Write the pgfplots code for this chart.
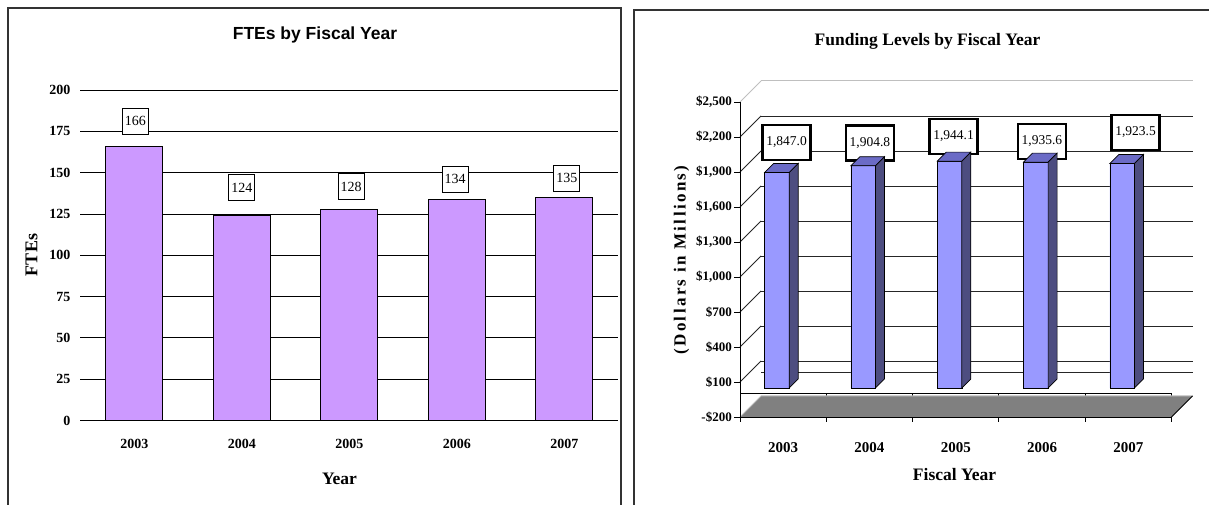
\documentclass[border=0pt]{standalone}
\usepackage{fontspec}
\setmainfont{Liberation Serif}
\newfontfamily\arialfont{Liberation Sans}
\usepackage{pgfplots}
\usepackage{pgfplotstable}
\pgfplotsset{compat=1.18}

\definecolor{ftebar}{HTML}{CC99FF}
\definecolor{frontc}{HTML}{9999FF}
\definecolor{sidec}{HTML}{4D4D80}
\definecolor{topc}{HTML}{6B6BC6}
\definecolor{floorc}{HTML}{808080}

\pgfplotstableread{
x val lx ly
0 166 0.01 181.0
1 124 0.00 141.0
2 128 0.018 141.6
3 134 -0.014 145.9
4 135 0.024 146.8
}\ftetable

\pgfplotstableread{
x val lx ly lab
0 1847.0 0.039 2153 1,847.0
1 1904.8 1.006 2149 1,904.8
2 1944.1 1.974 2204 1,944.1
3 1935.6 2.999 2162 1,935.6
4 1923.5 4.083 2239 1,923.5
}\fundtable

\tikzset{
  ftelab/.style={draw=black, line width=0.8pt, fill=white, minimum width=26pt, minimum height=26pt, inner sep=0pt, font=\fontsize{14}{16}\selectfont},
  fundlab/.style={draw=black, line width=2.6pt, fill=white, minimum width=48pt, minimum height=35pt, inner sep=0pt, font=\fontsize{13.5}{16}\selectfont},
  wallline/.style={black!85, line width=0.9pt},
}

\begin{document}
\begin{tikzpicture}
\path[use as bounding box] (0pt,0pt) rectangle (1209pt,505pt);
\fill[white] (0pt,0pt) rectangle (1209pt,505pt);
\draw[line width=1.5pt, black!80] (8pt,-5pt) -- (8pt,497pt) -- (621pt,497pt) -- (621pt,-5pt);
\draw[line width=1.5pt, black!80] (634pt,-5pt) -- (634pt,495pt) -- (1215pt,495pt);

% ---------------- Left chart ----------------
\begin{axis}[
  at={(80.5pt,84.4pt)}, anchor=south west,
  width=537.5pt, height=330.6pt, scale only axis,
  xmin=-0.5, xmax=4.5, ymin=0, ymax=200,
  axis line style={draw=none},
  xtick={0,...,4}, xticklabels={2003,2004,2005,2006,2007},
  ytick={0,25,...,200},
  tick pos=left, major tick length=0pt,
  ymajorgrids, grid style={black, line width=0.9pt},
  /pgf/number format/assume math mode=true,
  tick label style={font=\fontsize{14}{16}\selectfont\bfseries, inner sep=0pt},
  yticklabel style={xshift=-10pt},
  xticklabel style={anchor=base, yshift=-27.5pt},
  clip=false,
]
\addplot[ybar, bar width=57pt, bar shift=0pt, fill=ftebar, draw=black, line width=0.8pt] table[x=x, y=val]{\ftetable};
\pgfplotsinvokeforeach{0,...,4}{
  \pgfplotstablegetelem{#1}{lx}\of\ftetable \let\lx\pgfplotsretval
  \pgfplotstablegetelem{#1}{ly}\of\ftetable \let\ly\pgfplotsretval
  \pgfplotstablegetelem{#1}{val}\of\ftetable \let\vv\pgfplotsretval
  \pgfmathsetmacro\cx{#1+\lx}
  \edef\tmp{\noexpand\node[ftelab] at (axis cs:\cx,\ly) {\vv};}
  \tmp
}
\end{axis}
\node[font=\arialfont\bfseries\fontsize{17.5}{20}\selectfont, anchor=base] at (315pt,465pt) {FTEs by Fiscal Year};
\node[font=\bfseries\fontsize{17.5}{20}\selectfont, anchor=base] at (339.5pt,20.5pt) {Year};
\node[font=\bfseries\fontsize{18}{20}\selectfont, rotate=90] at (31.5pt,250pt) {FTEs};

% ---------------- Right chart: walls, floor, axes, labels ----------------
\begin{axis}[
  at={(740pt,88pt)}, anchor=south west,
  width=431.5pt, height=315pt, scale only axis,
  xmin=-0.5, xmax=4.5, ymin=-200, ymax=2500,
  clip=false, axis on top,
  axis x line*=bottom, axis y line*=left,
  axis line style={-, black, line width=0.9pt},
  xtick={0,...,4}, xticklabels={2003,2004,2005,2006,2007},
  x tick style={draw=none},
  ytick={-200,100,...,2500},
  yticklabels={-\$200,\$100,\$400,\$700,{\$1,000},{\$1,300},{\$1,600},{\$1,900},{\$2,200},{\$2,500}},
  tick align=outside, major tick length=6pt,
  y tick style={black, line width=0.8pt},
  yticklabel style={font=\fontsize{13}{15}\selectfont\bfseries, inner sep=0pt, xshift=-2pt},
  xticklabel style={font=\fontsize{15}{17}\selectfont\bfseries, inner sep=0pt, anchor=base, yshift=-29.7pt},
]
\foreach \v in {100,400,700,1000,1300,1600,1900,2200} {
  \pgfmathsetmacro\vb{\v+180}
  \edef\tmp{\noexpand\draw[wallline] (axis cs:-0.2567,\vb) -- (axis cs:4.7433,\vb);
    \noexpand\draw[wallline] (axis cs:-0.5,\v) -- (axis cs:-0.2567,\vb);}
  \tmp
}
\draw[wallline] (axis cs:-0.2567,180) -- (axis cs:4.7433,180);
\draw[black!25, line width=1pt] (axis cs:-0.2567,2680) -- (axis cs:4.7433,2680);
\draw[black!25, line width=1pt] (axis cs:-0.5,2500) -- (axis cs:-0.2567,2680);
\foreach \b in {-0.5,0.5,1.5,2.5,3.5,4.5} {
  \edef\tmp{\noexpand\draw[black, line width=0.9pt] (axis cs:\b,0) -- (axis cs:\b,-243);}
  \tmp
}
\fill[floorc] (axis cs:-0.5,-200) -- (axis cs:4.5,-200) -- (axis cs:4.7433,-20) -- (axis cs:-0.2567,-20) -- cycle;
\draw[black!25, line width=1pt] (axis cs:-0.5,-200) -- (axis cs:-0.2567,-20) -- (axis cs:4.7433,-20);
\draw[black, line width=0.9pt] (axis cs:4.5,-200) -- (axis cs:4.7433,-20);
\draw[black, line width=0.9pt] (axis cs:-0.5,0) -- (axis cs:4.5,0);
\pgfplotsinvokeforeach{0,...,4}{
  \pgfplotstablegetelem{#1}{lx}\of\fundtable \let\lx\pgfplotsretval
  \pgfplotstablegetelem{#1}{ly}\of\fundtable \let\ly\pgfplotsretval
  \pgfplotstablegetelem{#1}{lab}\of\fundtable \let\vv\pgfplotsretval
  \edef\tmp{\noexpand\node[fundlab] at (axis cs:\lx,\ly) {\vv};}
  \tmp
}
\end{axis}

% ---------------- Right chart: 3D bars ----------------
\begin{axis}[
  at={(740pt,88pt)}, anchor=south west,
  width=431.5pt, height=315pt, scale only axis,
  xmin=-0.5, xmax=4.5, ymin=-248.9, ymax=2451.1,
  hide axis, clip=false,
]
\addplot[ybar, bar width=24.6pt, bar shift=-6.2pt, fill=frontc, draw=black, line width=0.7pt] table[x=x, y=val]{\fundtable};
\pgfplotsinvokeforeach{0,...,4}{
  \pgfplotstablegetelem{#1}{val}\of\fundtable \let\vv\pgfplotsretval
  \pgfmathsetmacro\xl{#1-0.215}
  \pgfmathsetmacro\xr{#1+0.07}
  \pgfmathsetmacro\xlb{#1-0.215+0.1043}
  \pgfmathsetmacro\xrb{#1+0.07+0.1043}
  \pgfmathsetmacro\vt{\vv+77.1}
  \edef\tmp{\noexpand\filldraw[fill=sidec, draw=black, line width=0.7pt] (axis cs:\xr,0) -- (axis cs:\xr,\vv) -- (axis cs:\xrb,\vt) -- (axis cs:\xrb,77.1) -- cycle;
    \noexpand\filldraw[fill=topc, draw=black, line width=0.7pt] (axis cs:\xl,\vv) -- (axis cs:\xr,\vv) -- (axis cs:\xrb,\vt) -- (axis cs:\xlb,\vt) -- cycle;}
  \tmp
}
\end{axis}
\node[font=\bfseries\fontsize{17.5}{20}\selectfont, anchor=base] at (927.5pt,459pt) {Funding Levels by Fiscal Year};
\node[font=\bfseries\fontsize{17.5}{20}\selectfont, anchor=base] at (954.5pt,24.3pt) {Fiscal Year};
\node[font=\bfseries\fontsize{17}{20}\selectfont\addfontfeatures{LetterSpace=14}, rotate=90] at (681.5pt,245pt) {(Dollars in Millions)};
\end{tikzpicture}
\end{document}
